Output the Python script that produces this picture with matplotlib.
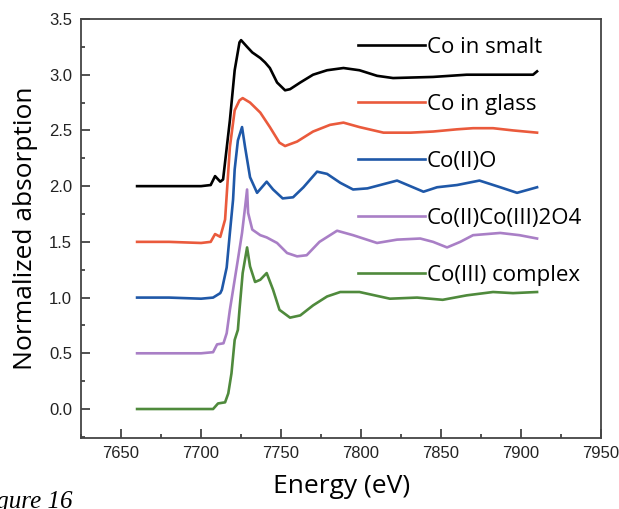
import matplotlib
matplotlib.use("Agg")
import matplotlib.pyplot as plt
from matplotlib.ticker import MultipleLocator, FormatStrFormatter

# Co K-edge XANES, offset spectra
smalt_e = [7660, 7680, 7700, 7706, 7708.75, 7712, 7713.75, 7718, 7721, 7724, 7725,
           7728.75, 7732, 7737, 7740, 7743, 7747.5, 7752.5, 7755.6, 7762, 7770,
           7778.75, 7789, 7799, 7810, 7820, 7845, 7866, 7887, 7907.5, 7910]
smalt_y = [2.0, 2.0, 2.0, 2.01, 2.09, 2.04, 2.06, 2.59, 3.04, 3.29, 3.31,
           3.25, 3.20, 3.15, 3.11, 3.06, 2.93, 2.86, 2.87, 2.93, 3.0,
           3.04, 3.06, 3.04, 2.99, 2.97, 2.98, 3.0, 3.0, 3.0, 3.03]

glass_e = [7660, 7680, 7700, 7706, 7708.75, 7712, 7715, 7718, 7721, 7724, 7726,
           7730.6, 7737, 7743, 7749, 7752.5, 7760, 7770, 7780.6, 7789, 7799,
           7814, 7831, 7845, 7860, 7870, 7882.5, 7895, 7910]
glass_y = [1.5, 1.5, 1.49, 1.5, 1.57, 1.545, 1.70, 2.35, 2.68, 2.77, 2.79,
           2.75, 2.66, 2.53, 2.39, 2.36, 2.40, 2.49, 2.55, 2.57, 2.53,
           2.48, 2.48, 2.49, 2.51, 2.52, 2.52, 2.50, 2.48]

coo_e = [7660, 7680, 7700, 7707.5, 7712, 7713, 7716, 7718, 7720, 7721, 7723, 7725.6,
         7727.5, 7730.6, 7735, 7738, 7741, 7745, 7751, 7757.5, 7764, 7772.5,
         7778.75, 7787, 7795, 7804, 7822.5, 7839, 7847.5, 7860, 7874, 7887,
         7897.5, 7910]
coo_y = [1.0, 1.0, 0.99, 1.0, 1.04, 1.07, 1.27, 1.58, 1.88, 2.15, 2.41, 2.53,
         2.35, 2.08, 1.94, 1.99, 2.04, 1.97, 1.89, 1.90, 1.99, 2.13,
         2.11, 2.03, 1.97, 1.98, 2.05, 1.95, 1.99, 2.01, 2.05, 1.99,
         1.94, 1.99]

spinel_e = [7660, 7680, 7700, 7707.5, 7710, 7714, 7716, 7718, 7721, 7723, 7725.6,
            7727.5, 7728.75, 7729.4, 7732, 7737, 7741, 7747.5, 7753.75, 7760,
            7766, 7774, 7785, 7795, 7810, 7822.5, 7837, 7845, 7853.75, 7862,
            7870, 7887, 7899, 7910]
spinel_y = [0.5, 0.5, 0.5, 0.51, 0.58, 0.59, 0.68, 0.89, 1.16, 1.34, 1.58,
            1.81, 1.97, 1.76, 1.61, 1.56, 1.54, 1.49, 1.40, 1.37,
            1.38, 1.50, 1.60, 1.56, 1.49, 1.52, 1.53, 1.50, 1.45, 1.50,
            1.56, 1.58, 1.56, 1.53]

co3_e = [7660, 7680, 7700, 7707.5, 7710.6, 7715, 7717, 7719, 7721, 7723, 7724,
         7726, 7728.75, 7730.6, 7733.75, 7737, 7741, 7745, 7749, 7755.6, 7762,
         7770, 7778.75, 7787, 7799, 7818, 7835, 7851, 7866, 7882.5, 7895, 7910]
co3_y = [0.0, 0.0, 0.0, 0.0, 0.05, 0.06, 0.14, 0.32, 0.62, 0.71, 0.89,
         1.22, 1.45, 1.28, 1.14, 1.16, 1.22, 1.07, 0.89, 0.82, 0.84,
         0.93, 1.01, 1.05, 1.05, 0.99, 1.0, 0.98, 1.02, 1.05, 1.04, 1.05]

labels = ["Co in smalt", "Co in glass", "Co(II)O", "Co(II)Co(III)2O4", "Co(III) complex"]
colors = ["#000000", "#ea5a3c", "#1f58a8", "#a97fc6", "#4f8a3c"]
series = [(smalt_e, smalt_y), (glass_e, glass_y), (coo_e, coo_y),
          (spinel_e, spinel_y), (co3_e, co3_y)]

fig = plt.figure(figsize=(6.19, 5.09), dpi=100)
ax = fig.add_axes([0.131, 0.1395, 0.84, 0.8232])

for (e, y), lab, c in zip(series, labels, colors):
    ax.plot(e, y, color=c, lw=1.9, label=lab)

ax.set_xlim(7625, 7950)
ax.set_ylim(-0.26, 3.5)
ax.xaxis.set_major_locator(MultipleLocator(50))
ax.xaxis.set_minor_locator(MultipleLocator(25))
ax.yaxis.set_major_locator(MultipleLocator(0.5))
ax.yaxis.set_minor_locator(MultipleLocator(0.25))
ax.yaxis.set_major_formatter(FormatStrFormatter("%.1f"))
ax.tick_params(which="both", direction="in", top=False, right=False,
               color="#333333", width=1.2)
ax.tick_params(which="major", length=6.5, labelsize=12, labelcolor="#222222")
ax.tick_params(axis="x", which="major", pad=6)
ax.tick_params(axis="y", which="major", pad=6.5)
ax.tick_params(which="minor", length=3)
for lbl in ax.get_xticklabels() + ax.get_yticklabels():
    lbl.set_family("Liberation Sans")
for s in ax.spines.values():
    s.set_color("#444444")
    s.set_linewidth(1.3)

ax.set_xlabel("Energy (eV)", family="Open Sans", fontsize=19, labelpad=9)
ax.set_ylabel("Normalized absorption", family="Open Sans", fontsize=19, labelpad=8)

leg = ax.legend(loc="upper left", bbox_to_anchor=(0.533, 0.957), frameon=False,
                handlelength=3.0, handletextpad=0.1, labelspacing=1.62,
                borderaxespad=0, borderpad=0,
                prop={"family": "Open Sans", "size": 16})

# caption fragment cut by the image edge, as in the source
fig.text(-0.042, 1.0 / 509, "Figure 16", family="Liberation Serif", style="italic",
         fontsize=18, va="baseline")

fig.savefig("out.png", dpi=100)
